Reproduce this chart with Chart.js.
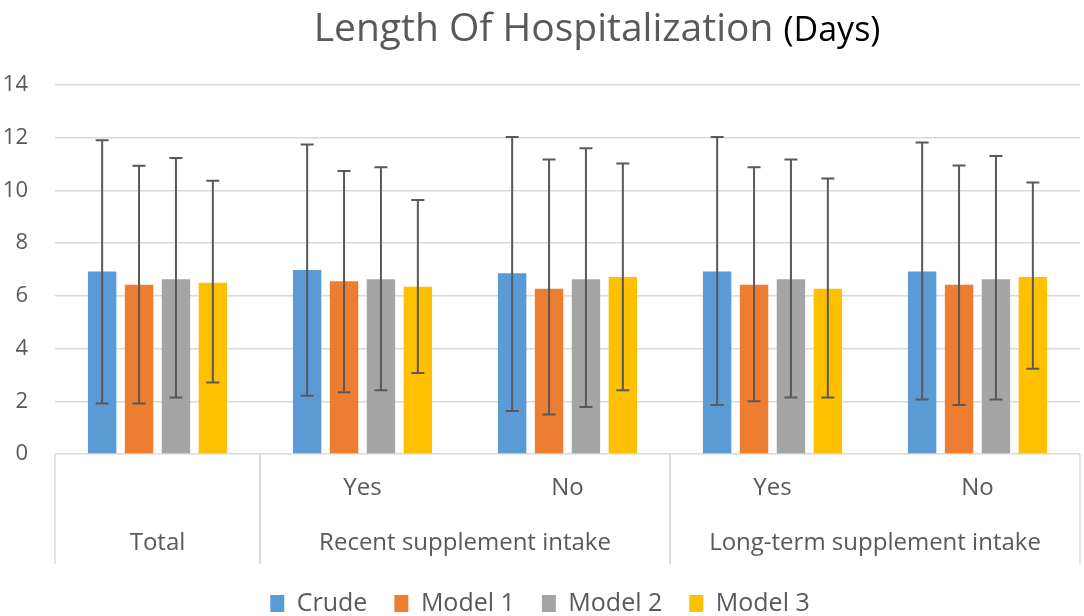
<!DOCTYPE html>
<html>
<head>
<meta charset="utf-8">
<script src="https://cdn.jsdelivr.net/npm/chart.js@4.4.0/dist/chart.umd.min.js"></script>
<style>
  html, body { margin: 0; padding: 0; background: #fff; }
  #wrap { width: 1084px; height: 616px; position: relative; }
</style>
</head>
<body>
<div id="wrap"><canvas id="grafik"></canvas></div>
<script>
// x axis: lower row (sub labels) and upper row (groups)
var altEtiketler = ["", "Yes", "No", "Yes", "No"];
var gruplar = ["Total", "Recent supplement intake", "Long-term supplement intake"];
var grupBoyu = [1, 2, 2];

var seriAdlari = ["Crude", "Model 1", "Model 2", "Model 3"];
var renkler = ["#5B9BD5", "#ED7D31", "#A5A5A5", "#FFC000"];

// means
var crude  = [6.92, 6.98, 6.86, 6.92, 6.92];
var model1 = [6.42, 6.55, 6.27, 6.42, 6.42];
var model2 = [6.63, 6.63, 6.63, 6.63, 6.63];
var model3 = [6.50, 6.35, 6.72, 6.27, 6.72];

// error bar ends
var crudeAlt  = [1.92, 2.21, 1.63, 1.86, 2.07];
var crudeUst  = [11.90, 11.74, 12.03, 12.03, 11.82];
var model1Alt = [1.92, 2.34, 1.50, 2.00, 1.86];
var model1Ust = [10.94, 10.74, 11.17, 10.88, 10.95];
var model2Alt = [2.14, 2.42, 1.78, 2.14, 2.07];
var model2Ust = [11.23, 10.88, 11.60, 11.17, 11.31];
var model3Alt = [2.71, 3.07, 2.42, 2.14, 3.23];
var model3Ust = [10.37, 9.64, 11.02, 10.45, 10.30];

var yTikler = [0, 2, 4, 6, 8, 10, 12, 14];

var degerler = [crude, model1, model2, model3];
var altlar = [crudeAlt, model1Alt, model2Alt, model3Alt];
var ustler = [crudeUst, model1Ust, model2Ust, model3Ust];

var yaziRengi = "#595959";
var cizgiRengi = "#d9d9d9";
Chart.defaults.font.family = "'Open Sans', sans-serif";

var hataCubugu = {
    id: "hataCubugu",
    afterDatasetsDraw: function (chart) {
        var ctx = chart.ctx;
        var y = chart.scales.y;
        ctx.save();
        ctx.strokeStyle = "#595959";
        ctx.lineWidth = 2;
        for (let s = 0; s < degerler.length; s++) {
            var meta = chart.getDatasetMeta(s);
            meta.data.forEach(function (bar, i) {
                var x = bar.x;
                var yA = y.getPixelForValue(altlar[s][i]);
                var yU = y.getPixelForValue(ustler[s][i]);
                ctx.beginPath();
                ctx.moveTo(x, yA); ctx.lineTo(x, yU);
                ctx.moveTo(x - 6.5, yA); ctx.lineTo(x + 6.5, yA);
                ctx.moveTo(x - 6.5, yU); ctx.lineTo(x + 6.5, yU);
                ctx.stroke();
            });
        }
        ctx.restore();
    }
};

// legend keeps wide gaps between items but a short box
var lejantBoyu = {
    id: "lejantBoyu",
    beforeLayout: function (chart) {
        var lg = chart.legend;
        if (lg && !lg._sarildi) {
            var eski = lg.fit;
            lg.fit = function () {
                eski.call(this);
                this.height = 52;
            };
            lg._sarildi = true;
        }
    }
};

var tabloEksen = {
    id: "tabloEksen",
    afterDraw: function (chart) {
        var ctx = chart.ctx;
        var x = chart.scales.x;
        var alan = chart.chartArea;
        var adim = x.getPixelForValue(1) - x.getPixelForValue(0);
        var alt = alan.bottom + 110;
        ctx.save();
        ctx.strokeStyle = cizgiRengi;
        ctx.lineWidth = 1.5;
        ctx.fillStyle = yaziRengi;
        ctx.font = "24px 'Open Sans', sans-serif";
        ctx.textAlign = "center";
        ctx.textBaseline = "middle";
        var bas = 0;
        for (let g = 0; g < gruplar.length; g++) {
            var sol = x.getPixelForValue(bas) - adim / 2;
            var sag = x.getPixelForValue(bas + grupBoyu[g] - 1) + adim / 2;
            ctx.beginPath();
            ctx.moveTo(sol, alan.bottom); ctx.lineTo(sol, alt);
            ctx.moveTo(sag, alan.bottom); ctx.lineTo(sag, alt);
            ctx.stroke();
            ctx.fillText(gruplar[g], (sol + sag) / 2, alan.bottom + 89);
            bas += grupBoyu[g];
        }

        // title, two colours
        var t1 = "Length Of Hospitalization ";
        var t2 = "(Days)";
        ctx.textAlign = "left";
        ctx.textBaseline = "alphabetic";
        ctx.font = "39px 'Open Sans', sans-serif";
        var w1 = ctx.measureText(t1).width;
        ctx.font = "34px 'Open Sans', sans-serif";
        var w2 = ctx.measureText(t2).width;
        var bx = 597 - (w1 + w2) / 2;
        ctx.font = "39px 'Open Sans', sans-serif";
        ctx.fillStyle = yaziRengi;
        ctx.fillText(t1, bx, 41);
        ctx.font = "34px 'Open Sans', sans-serif";
        ctx.fillStyle = "#000";
        ctx.fillText(t2, bx + w1, 41);
        ctx.restore();
    }
};

var veriSetleri = [];
for (let s = 0; s < seriAdlari.length; s++) {
    veriSetleri.push({
        label: seriAdlari[s],
        data: degerler[s],
        backgroundColor: renkler[s],
        borderWidth: 0,
        barPercentage: 0.77,
        categoryPercentage: 0.72
    });
}

new Chart(document.getElementById("grafik").getContext("2d"), {
    type: "bar",
    data: { labels: altEtiketler, datasets: veriSetleri },
    plugins: [hataCubugu, lejantBoyu, tabloEksen],
    options: {
        responsive: true,
        maintainAspectRatio: false,
        animation: false,
        layout: { padding: { top: 85, right: 4, left: 0, bottom: 0 } },
        plugins: {
            title: { display: false },
            tooltip: { enabled: false },
            legend: {
                position: "bottom",
                labels: {
                    boxWidth: 14,
                    boxHeight: 17,
                    padding: 27,
                    color: yaziRengi,
                    font: { size: 25 }
                }
            }
        },
        scales: {
            x: {
                grid: { display: false, drawTicks: false },
                border: { display: false },
                ticks: { color: yaziRengi, font: { size: 24 }, padding: 20, autoSkip: false, maxRotation: 0 },
                afterFit: function (sc) { sc.height = 110; }
            },
            y: {
                min: 0,
                max: 14,
                afterBuildTicks: function (sc) { sc.ticks = yTikler.map(function (v) { return { value: v }; }); },
                grid: { color: cizgiRengi, lineWidth: 1.5, drawTicks: false },
                border: { display: false },
                ticks: { color: yaziRengi, font: { size: 22 }, padding: 27 },
                afterFit: function (sc) { sc.width = 55; }
            }
        }
    }
});
</script>
</body>
</html>
